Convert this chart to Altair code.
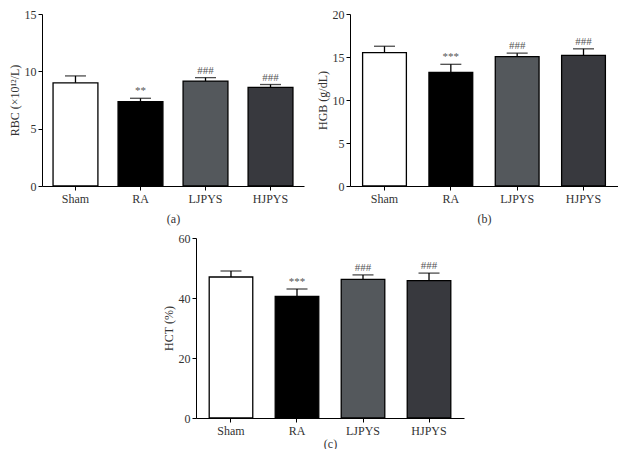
import altair as alt
import pandas as pd

groups = ["Sham", "RA", "LJPYS", "HJPYS"]
colors = ["#ffffff", "#000000", "#54585c", "#38393e"]

rbc_mean = [9.0, 7.35, 9.15, 8.6]
rbc_upper = [9.6, 7.65, 9.45, 8.85]
rbc_sig = ["", "**", "###", "###"]

hgb_mean = [15.5, 13.2, 15.05, 15.2]
hgb_upper = [16.25, 14.15, 15.45, 15.95]
hgb_sig = ["", "***", "###", "###"]

hct_mean = [47.0, 40.5, 46.2, 45.8]
hct_upper = [49.0, 43.0, 47.7, 48.3]
hct_sig = ["", "***", "###", "###"]

SERIF = "Liberation Serif"


def panel(mean, upper, sig, ytitle, ymax, ystep, caption, width, height, pin, pout, cap_pad=9):
    df = pd.DataFrame({"group": groups, "value": mean, "upper": upper, "sig": sig})
    x = alt.X(
        "group:N",
        sort=groups,
        scale=alt.Scale(paddingInner=pin, paddingOuter=pout),
        axis=alt.Axis(
            title=caption,
            labelAngle=0,
            tickSize=4,
            labelPadding=3,
            titlePadding=cap_pad,
            labelFontSize=12,
            titleFontSize=12,
        ),
    )
    yscale = alt.Scale(domain=[0, ymax], nice=False)
    yaxis = alt.Axis(
        title=ytitle,
        values=list(range(0, ymax + 1, ystep)),
        tickSize=4,
        labelPadding=2,
        titlePadding=3,
        labelFontSize=12,
        titleFontSize=12,
    )
    bars = alt.Chart(df).mark_bar(stroke="black", strokeWidth=1.3).encode(
        x=x,
        y=alt.Y("value:Q", scale=yscale, axis=yaxis),
        color=alt.Color("group:N", scale=alt.Scale(domain=groups, range=colors), legend=None),
    )
    rule = alt.Chart(df).mark_rule(color="black", strokeWidth=1.3).encode(
        x=alt.X("group:N", sort=groups), y="value:Q", y2="upper:Q"
    )
    cap = alt.Chart(df).mark_tick(color="black", thickness=1.3, size=21).encode(
        x=alt.X("group:N", sort=groups), y="upper:Q"
    )
    txt = alt.Chart(df).mark_text(dy=-7, fontSize=11, color="#555555", font=SERIF).encode(
        x=alt.X("group:N", sort=groups), y="upper:Q", text="sig:N"
    )
    return alt.layer(bars, rule, cap, txt).properties(width=width, height=height)


a = panel(rbc_mean, rbc_upper, rbc_sig, "RBC (×10¹²/L)", 15, 5, "(a)", 262, 172, 0.31, 0.17)
b = panel(hgb_mean, hgb_upper, hgb_sig, "HGB (g/dL)", 20, 5, "(b)", 268, 172, 0.34, 0.19)
c = panel(hct_mean, hct_upper, hct_sig, "HCT (%)", 60, 20, "(c)", 268, 180, 0.34, 0.2, cap_pad=2)

chart = (
    alt.vconcat(alt.hconcat(a, b, spacing=12), c, spacing=8, center=True)
    .properties(padding={"left": 0, "top": 0, "right": 0, "bottom": 0})
    .configure_view(stroke=None)
    .configure_axis(
        grid=False,
        domainColor="black",
        tickColor="black",
        domainWidth=1,
        labelFont=SERIF,
        titleFont=SERIF,
        labelColor="#333333",
        titleColor="#333333",
        titleFontWeight="normal",
    )
)

chart.save("out.html", embed_options={"renderer": "svg", "actions": False})
